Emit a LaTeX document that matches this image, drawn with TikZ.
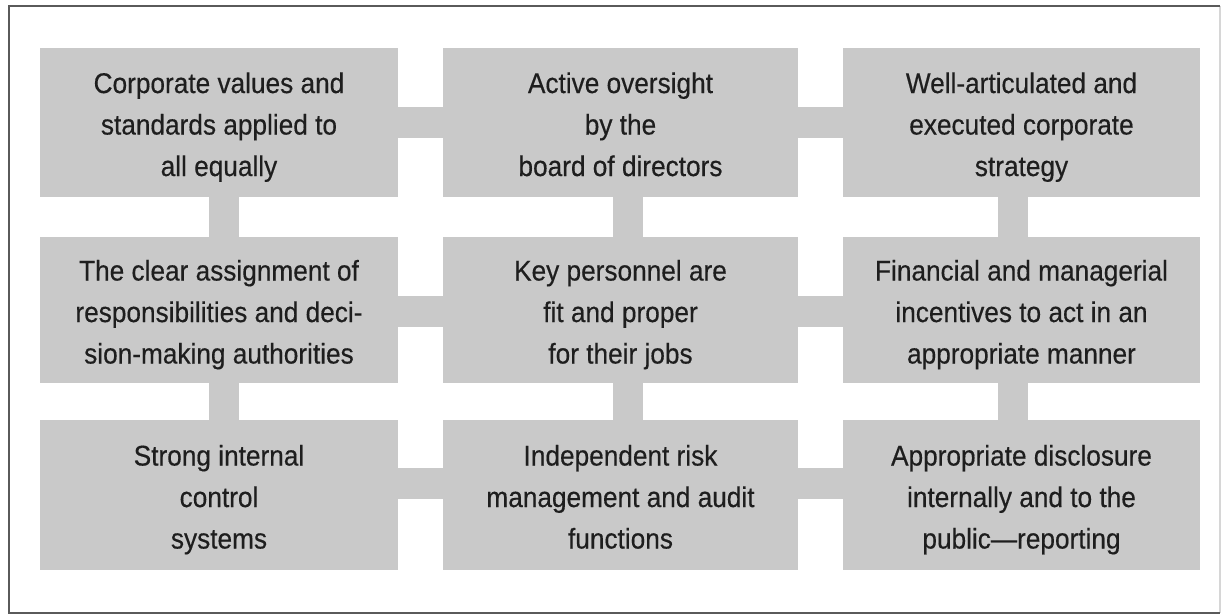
\documentclass[tikz,border=0pt]{standalone}
\usepackage{fontspec}
\setmainfont{Liberation Sans}[FakeStretch=0.92,FakeBold=0.4]
\usetikzlibrary{backgrounds}
\definecolor{boxgray}{HTML}{C9C9C9}
\definecolor{framedark}{HTML}{5A5A5A}
\definecolor{framelight}{HTML}{D6D6D6}
\definecolor{inkgray}{HTML}{1E1E1E}
% three centred lines; the tall rule on the first line sets the text a little below the box centre
\newcommand{\threelines}[3]{\rule{0pt}{36.5pt}#1\\#2\\#3\strut}
\begin{document}
\begin{tikzpicture}[x=1pt,y=-1pt,
  cell/.style={rectangle, fill=boxgray, inner sep=0pt, outer sep=0pt,
    minimum width=#1, align=center, text=inkgray,
    font=\fontsize{28.5}{41.5}\selectfont},
  hbar/.style={draw=boxgray, line width=31pt},
  vbar/.style={draw=boxgray, line width=30pt}]
\useasboundingbox (0,0) rectangle (1228,615);

% outer frame
\draw[framelight, line width=1.5pt] (1220,6) -- (1220,613);
\draw[framedark, line width=2pt] (1220,6) -- (8.5,6) -- (8.5,613) -- (1220,613);

% grid of boxes
\node[cell=358pt, minimum height=149pt] (A) at (219,122.5)
  {\threelines{Corporate values and}{standards applied to}{all equally}};
\node[cell=355pt, minimum height=149pt] (B) at (620.5,122.5)
  {\threelines{Active oversight}{by the}{board of directors}};
\node[cell=357pt, minimum height=149pt] (C) at (1021.5,122.5)
  {\threelines{Well-articulated and}{executed corporate}{strategy}};
\node[cell=358pt, minimum height=146pt] (D) at (219,310)
  {\threelines{The clear assignment of}{responsibilities and deci-}{sion-making authorities}};
\node[cell=355pt, minimum height=146pt] (E) at (620.5,310)
  {\threelines{Key personnel are}{fit and proper}{for their jobs}};
\node[cell=357pt, minimum height=146pt] (F) at (1021.5,310)
  {\threelines{Financial and managerial}{incentives to act in an}{appropriate manner}};
\node[cell=358pt, minimum height=150pt] (G) at (219,495)
  {\threelines{Strong internal}{control}{systems}};
\node[cell=355pt, minimum height=150pt] (H) at (620.5,495)
  {\threelines{Independent risk}{management and audit}{functions}};
\node[cell=357pt, minimum height=150pt] (I) at (1021.5,495)
  {\threelines{Appropriate disclosure}{internally and to the}{public—reporting}};

% white page and the connecting bars, behind the boxes
\begin{scope}[on background layer]
\fill[white] (0,0) rectangle (1228,615);
% vertical links down each column
\draw[vbar] ([xshift=5pt]A.south) -- ([xshift=5pt]D.north);
\draw[vbar] ([xshift=5pt]D.south) -- ([xshift=5pt]G.north);
\draw[vbar] ([xshift=7.5pt]B.south) -- ([xshift=7.5pt]E.north);
\draw[vbar] ([xshift=7.5pt]E.south) -- ([xshift=7.5pt]H.north);
\draw[vbar] ([xshift=-8.5pt]C.south) -- ([xshift=-8.5pt]F.north);
\draw[vbar] ([xshift=-8.5pt]F.south) -- ([xshift=-8.5pt]I.north);
% horizontal links across each row
\draw[hbar] (A.east) -- (B.west);
\draw[hbar] (B.east) -- (C.west);
\draw[hbar] ([yshift=-1pt]D.east) -- ([yshift=-1pt]E.west);
\draw[hbar] ([yshift=-1pt]E.east) -- ([yshift=-1pt]F.west);
\draw[hbar] ([yshift=11.5pt]G.east) -- ([yshift=11.5pt]H.west);
\draw[hbar] ([yshift=11.5pt]H.east) -- ([yshift=11.5pt]I.west);
\end{scope}
\end{tikzpicture}
\end{document}
